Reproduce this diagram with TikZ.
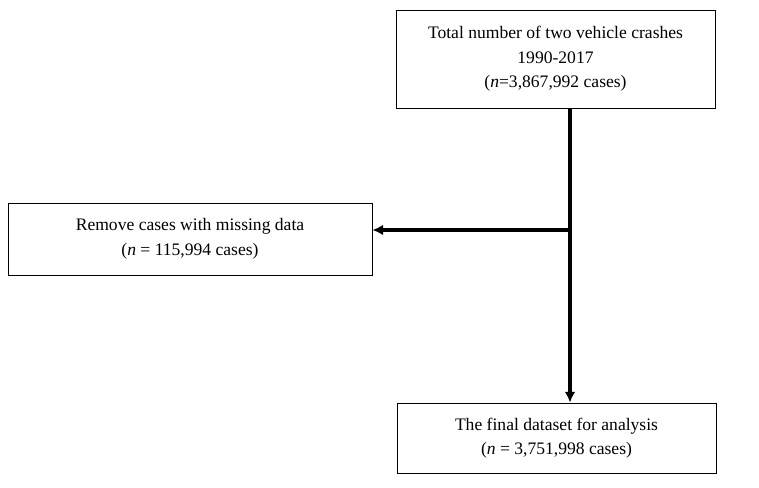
\documentclass[tikz,border=0pt]{standalone}
\usepackage{fontspec}
\setmainfont{Liberation Serif}
\usetikzlibrary{positioning}
\usetikzlibrary{arrows.meta}
\begin{document}
\begin{tikzpicture}[x=0.03cm,y=-0.03cm,
	stepbox/.style={draw,line width=0.8pt,align=center,inner sep=0pt,font=\fontsize{15}{21}\selectfont},
	flow/.style={line width=2.8pt,-{Latex[length=9pt,width=9pt]}}]
	%frame
	\useasboundingbox (0,0) rectangle (759,488);
	
	%boxes
	\node[stepbox,minimum width=319*0.03cm,minimum height=98*0.03cm] (total) at (555.5,59) {Total number of two vehicle crashes\\1990-2017\\(\textit{n}=3,867,992 cases)};
	\node[stepbox,minimum width=364*0.03cm,minimum height=72*0.03cm] (removed) at (190,239) {Remove cases with missing data\\(\textit{n} = 115,994 cases)};
	\node[stepbox,minimum width=319*0.03cm,minimum height=70*0.03cm] (final) at (556.5,438) {The final dataset for analysis\\(\textit{n} = 3,751,998 cases)};
	
	%arrows
	\coordinate (split) at (570,230);
	\draw[flow] (total.south -| split) -- (final.north -| split);
	\draw[flow] (split) -- (removed.east |- split);
\end{tikzpicture}
\end{document}
